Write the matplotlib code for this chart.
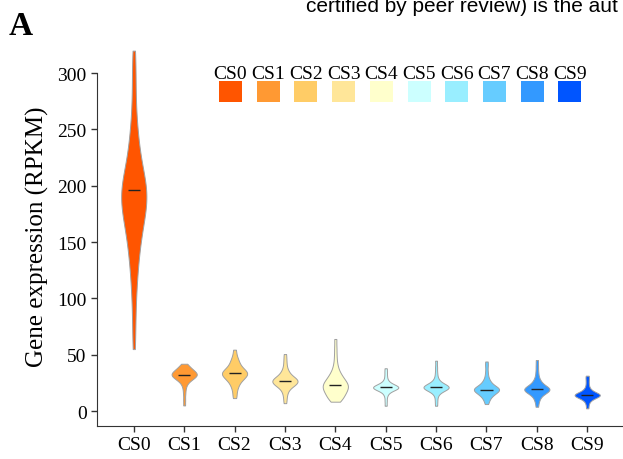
import numpy as np
import matplotlib
matplotlib.use('Agg')
import matplotlib.pyplot as plt
from matplotlib.patches import Rectangle

plt.rcParams['font.family'] = ['Liberation Serif', 'DejaVu Serif']

# Stages and colours
stages = ['CS0', 'CS1', 'CS2', 'CS3', 'CS4', 'CS5', 'CS6', 'CS7', 'CS8', 'CS9']
colors = ['#FF5500', '#FF9933', '#FFCC66', '#FFE699', '#FFFFCC',
          '#CCFFFF', '#99EEFF', '#66CCFF', '#3399FF', '#0055FF']

# Expression values (RPKM) per stage
cs0 = [55, 70, 85, 98, 108, 116,
       123, 129, 134, 139, 143, 147, 151, 154, 157, 160, 163, 166, 168, 170,
       172, 174, 176, 178, 180, 182, 184, 185, 187, 188, 190, 191, 193, 194,
       196, 197, 199, 200, 202, 204, 206, 208, 210, 212, 215, 218, 221, 224,
       228, 232, 236, 241, 246, 252,
       260, 270, 282, 295, 308, 320]
cs1 = [5, 10, 15, 19, 22, 24, 25.5, 26.5, 27.5, 28, 28.5, 29, 29.5, 30, 30.5,
       31, 31, 31.5, 32, 32, 32.5, 33, 33, 33.5, 34, 34, 34.5, 35, 35.5, 36,
       36.5, 37, 37.5, 38, 39, 40, 41, 42]
cs2 = [11.5, 15, 18.5, 21, 23, 24.5, 26, 27, 28, 29, 29.5, 30, 31, 31.5, 32,
       32.5, 33, 33.5, 34, 34.5, 35, 35.5, 36, 37, 37.5, 38.5, 39.5, 40.5, 42,
       43.5, 45, 47, 50, 54.5]
cs3 = [7, 11, 14.5, 17, 19, 20.5, 21.5, 22.5, 23, 23.5, 24, 24.5, 25, 25.5,
       26, 26.5, 27, 27, 27.5, 28, 28.5, 29, 29.5, 30, 31, 32, 33, 34.5, 36,
       38.5, 42, 46, 50.6]
cs4 = [8.3, 9.5, 10.5, 11.5, 12.5, 13.5, 14.5, 15.5, 16.5, 17, 18, 18.5, 19,
       20, 20.5, 21, 22, 22.5, 23, 23.5, 24, 25, 25.5, 26, 27, 28, 29, 30, 31,
       32.5, 34, 36, 39, 43, 49, 56, 64]
cs5 = [4.7, 9, 13, 15.5, 17, 18, 18.5, 19, 19.5, 20, 20, 20.5, 20.5, 21, 21,
       21.5, 21.5, 22, 22, 22.5, 23, 23.5, 24, 25, 26, 28, 31, 34.5, 38]
cs6 = [4.7, 9, 13, 15.5, 17, 18, 18.5, 19, 19.5, 20, 20, 20.5, 21, 21, 21.5,
       21.5, 22, 22, 22.5, 23, 23.5, 24, 25, 26, 27.5, 30, 34, 39, 44.7]
cs7 = [6.2, 9, 11, 12.5, 13.5, 14.5, 15.5, 16, 16.5, 17, 17.5, 18, 18.5, 19,
       19, 19.5, 20, 20, 20.5, 21, 21.5, 22, 23, 24, 25, 26.5, 28, 31, 35, 40,
       44]
cs8 = [3.8, 8, 10.5, 12.5, 14, 15, 16, 16.5, 17, 17.5, 18, 18.5, 19, 19, 19.5,
       20, 20, 20.5, 21, 21.5, 22, 23, 24, 25, 26.5, 28, 31, 35, 40, 45.3]
cs9 = [2.4, 6, 8.5, 10, 11, 11.5, 12, 12.5, 13, 13.5, 13.5, 14, 14, 14.5, 14.5,
       15, 15, 15.5, 16, 16.5, 17, 18, 19, 20.5, 23, 26, 29, 31.4]
data = [cs0, cs1, cs2, cs3, cs4, cs5, cs6, cs7, cs8, cs9]

# Median marks as drawn in the figure
medians = [196, 32.2, 34, 27, 23.4, 21, 21.3, 19, 19.2, 14.2]

fig = plt.figure(figsize=(6.23, 4.6), dpi=100)
ax = fig.add_axes([0.1557, 0.0717, 0.8443, 0.8283])

pos = np.arange(len(stages))
vp = ax.violinplot(data, positions=pos, widths=0.5, showextrema=False,
                   points=400, bw_method=0.3)
for body, c in zip(vp['bodies'], colors):
    body.set_facecolor(c)
    body.set_edgecolor('#a0a0a0')
    body.set_linewidth(0.7)
    body.set_alpha(1)
ax.hlines(medians, pos - 0.12, pos + 0.12, color='#222222', linewidth=1)

ax.set_xlim(-0.73, 9.71)
ax.set_ylim(-13.3, 325)
ax.set_xticks(pos)
ax.set_xticklabels(stages)
ax.set_yticks([0, 50, 100, 150, 200, 250, 300])
ax.tick_params(axis='both', labelsize=14, length=4, width=1, color='#333333')
ax.set_ylabel('Gene expression (RPKM)', fontsize=18, labelpad=6)
for s in ['top', 'right']:
    ax.spines[s].set_visible(False)
ax.spines['left'].set_bounds(-13.3, 300)
ax.spines['left'].set_color('#333333')
ax.spines['bottom'].set_color('#333333')

# Legend: labels above colour squares
for i, (name, c) in enumerate(zip(stages, colors)):
    x0 = 219 / 623 + i * 37.7 / 623
    fig.add_artist(Rectangle((x0, 1 - 103 / 460), 23 / 623, 21 / 460,
                             facecolor=c, edgecolor='none',
                             transform=fig.transFigure))
    fig.text(x0 + 11.5 / 623, 1 - 79 / 460, name, ha='center', va='baseline',
             fontsize=14)

fig.text(9 / 623, 1 - 35 / 460, 'A', fontsize=24, fontweight='bold',
         va='baseline')
fig.text(306 / 623, 1 - 12 / 460, 'certified by peer review) is the aut',
         fontsize=15, family='Liberation Sans', va='baseline')

fig.savefig('out.png', dpi=100)
